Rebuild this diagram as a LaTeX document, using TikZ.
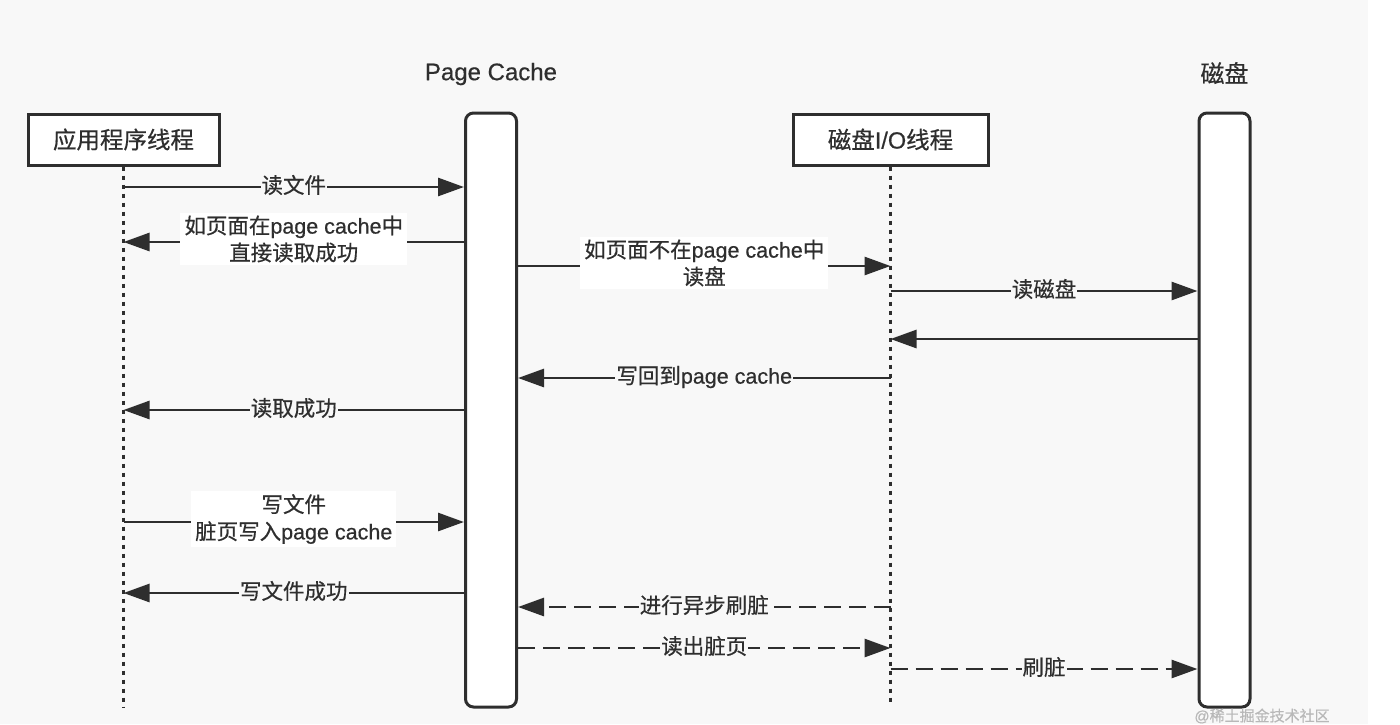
\documentclass[tikz,border=0pt]{standalone}
\usepackage{fontspec}
\setmainfont{Liberation Sans}[FakeBold=0.5]
\newfontfamily\cjk{Noto Sans CJK SC}[FakeBold=0.5]
\newcommand{\zh}[1]{{\cjk #1}}
\usetikzlibrary{arrows.meta,calc}
\definecolor{bg}{HTML}{F8F8F8}
\definecolor{ink}{HTML}{2E2E2E}
\definecolor{wm}{HTML}{B8B8B8}
\tikzset{
  actor/.style={draw=ink, line width=3pt, fill=white, minimum height=51pt, inner sep=0pt, text=ink, font=\fontsize{23.5}{27}\selectfont},
  bar/.style={draw=ink, line width=3pt, fill=white, rounded corners=8pt, minimum width=51pt, minimum height=594pt, inner sep=0pt},
  ttl/.style={text=ink, font=\fontsize{24}{28}\selectfont},
  life/.style={draw=ink, line width=2.6pt, dash pattern=on 4pt off 5pt},
  msg/.style={draw=ink, line width=2.8pt, -{Triangle[length=26pt,width=18pt]}},
  dmsg/.style={msg, dash pattern=on 17pt off 8pt},
  lbl/.style={fill=bg, text=ink, inner xsep=1pt, inner ysep=1pt, font=\fontsize{21.5}{26}\selectfont},
  lbl2/.style={fill=white, text=ink, inner xsep=4pt, inner ysep=3pt, align=center, font=\fontsize{21.5}{27}\selectfont},
}
\begin{document}
\begin{tikzpicture}[x=1pt,y=-1pt]
\useasboundingbox (0,0) rectangle (1400,724);
\fill[white] (0,0) rectangle (1400,724);
\fill[bg] (0,0) rectangle (1368,724);

% participants
\node[actor, minimum width=191pt] (app) at (123.5,139.5) {\zh{应用程序线程}};
\node[actor, minimum width=195pt] (io) at (890.5,139.5) {\zh{磁盘}I/O\zh{线程}};
\node[ttl] (pct) at (491,74) {Page Cache};
\node[ttl] (dt) at (1224.5,73) {\zh{磁盘}};

% lifelines
\coordinate (append) at (124,708);
\coordinate (ioend) at (890,706);
\draw[life] (app.south) -- (app.south |- append);
\draw[life] (io.south) -- (io.south |- ioend);

% bars
\node[bar] (pc) at (491,410) {};
\node[bar] (disk) at (1224.5,410) {};

% rows
\coordinate (r1) at (0,187);
\coordinate (r2) at (0,242);
\coordinate (r3) at (0,266);
\coordinate (r4) at (0,291);
\coordinate (r5) at (0,339);
\coordinate (r6) at (0,378);
\coordinate (r7) at (0,410);
\coordinate (r8) at (0,522);
\coordinate (r9) at (0,593);
\coordinate (r10) at (0,607);
\coordinate (r11) at (0,648);
\coordinate (r12) at (0,669);

\draw[msg] (app.south |- r1) -- (pc.west |- r1) node[lbl, midway, yshift=2pt] {\zh{读文件}};
\draw[msg] (pc.west |- r2) -- (app.south |- r2) node[lbl2, midway, yshift=3pt] {\zh{如页面在}page cache\zh{中}\\\zh{直接读取成功}};
\draw[msg] (pc.east |- r3) -- (io.south |- r3) node[lbl2, midway, yshift=3pt] {\zh{如页面不在}page cache\zh{中}\\\zh{读盘}};
\draw[msg] (io.south |- r4) -- (disk.west |- r4) node[lbl, midway, yshift=2pt] {\zh{读磁盘}};
\draw[msg] (disk.west |- r5) -- (io.south |- r5);
\draw[msg] (io.south |- r6) -- (pc.east |- r6) node[lbl, midway, yshift=1pt] {\zh{写回到}page cache};
\draw[msg] (pc.west |- r7) -- (app.south |- r7) node[lbl, midway, yshift=2pt] {\zh{读取成功}};
\draw[msg] (app.south |- r8) -- (pc.west |- r8) node[lbl2, midway, yshift=3pt] {\zh{写文件}\\\zh{脏页写入}page cache};
\draw[msg] (pc.west |- r9) -- (app.south |- r9) node[lbl, midway, yshift=2pt] {\zh{写文件成功}};
\draw[dmsg] (io.south |- r10) -- (pc.east |- r10) node[lbl, midway, yshift=2pt] {\zh{进行异步刷脏}};
\draw[dmsg] (pc.east |- r11) -- (io.south |- r11) node[lbl, midway, yshift=2pt] {\zh{读出脏页}};
\draw[dmsg] (io.south |- r12) -- (disk.west |- r12) node[lbl, midway, yshift=2pt] {\zh{刷脏}};

% watermark
\node[text=wm, font=\fontsize{15}{15}\selectfont, inner sep=0pt] (wmk) at (1262,716) {@\zh{稀土掘金技术社区}};
\end{tikzpicture}
\end{document}
